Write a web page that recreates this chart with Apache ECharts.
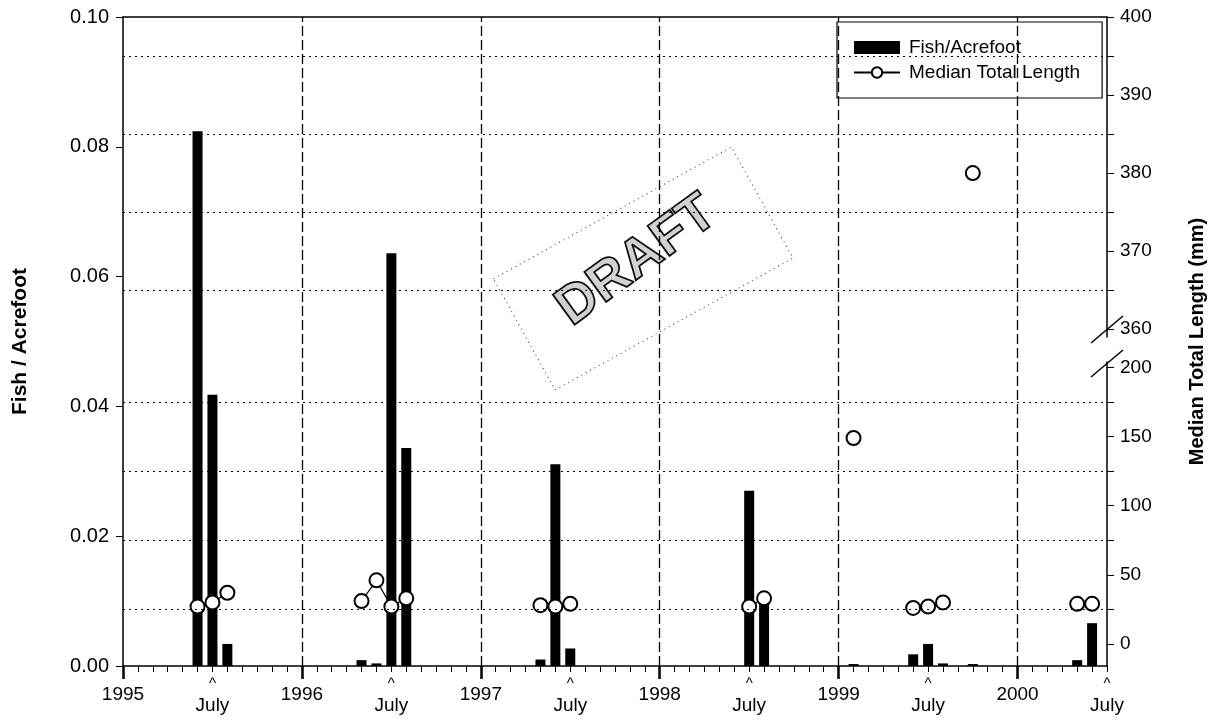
<!DOCTYPE html>
<html><head><meta charset="utf-8">
<script src="https://cdn.jsdelivr.net/npm/echarts@6/dist/echarts.min.js"></script>
<style>html,body{margin:0;padding:0;background:#fff}#c{width:1215px;height:720px}</style>
</head><body><div id="c"></div>
<script>
// ---------------- data ----------------
const barDates = ['1995-06','1995-07','1995-08','1996-05','1996-06','1996-07','1996-08','1997-05','1997-06','1997-07','1998-07','1998-08','1999-02','1999-06','1999-07','1999-08','1999-10','2000-05','2000-06'];
const fishPerAcrefoot = [0.0824,0.0418,0.0034,0.0009,0.0004,0.0636,0.0336,0.0010,0.0311,0.0027,0.0270,0.0098,0.0003,0.0018,0.0034,0.0004,0.0003,0.0009,0.0066];
const lengthDates = ['1995-06','1995-07','1995-08','1996-05','1996-06','1996-07','1996-08','1997-05','1997-06','1997-07','1998-07','1998-08','1999-02','1999-06','1999-07','1999-08','2000-05','2000-06'];
const medianLength = [27,30,37,31,46,27,33,28,27,29,27,33,149,26,27,30,29,29];
const upperLengthDates = ['1999-10'];
const upperMedianLength = [380];
const xLabelMonths = [0,6,12,18,24,30,36,42,48,54,60,66];
const yearMonths = [0,12,24,36,48,60];
const yearGridMonths = [12,24,36,48,60];
const upperRightLabels = [360,370,380,390,400];
const upperRightTicks = [360,365,370,375,380,385,390,395,400];
const lowerRightLabels = [0,50,100,150,200];
const lowerRightTicks = [0,25,50,75,100,125,150,175,200];
const upperGridlines = [365,375,385,395];
const lowerGridlines = [25,75,125,175];

// ---------------- helpers ----------------
const START_YEAR = 1995;
function mi(s){ const p = s.split('-'); return (+p[0]-START_YEAR)*12 + (+p[1]-1); }
function lineData(dates, vals){
  const out = [];
  for (let i=0;i<dates.length;i++){
    const m = mi(dates[i]);
    if (i>0 && m - mi(dates[i-1]) !== 1) out.push([m-0.5,'-']);
    out.push([m, vals[i]]);
  }
  return out;
}
const FONT = '"Liberation Sans", Arial, sans-serif';
const L=123, R=108, T=17, B=54;

const chart = echarts.init(document.getElementById('c'), null, {renderer:'canvas'});
const dotted = {color:'#000', width:1, type:[2,4]};
chart.setOption({
  animation:false,
  backgroundColor:'#fff',
  textStyle:{fontFamily:FONT, color:'#000'},
  grid:[
    {left:L, right:R, top:T, bottom:B},
    {left:L, right:R, top:T, height:320},
    {left:L, right:R, top:362, bottom:B}
  ],
  legend:{
    left:837, top:22, orient:'vertical',
    padding:[16,22,16,16], itemGap:6, itemWidth:46, itemHeight:13,
    backgroundColor:'#fff', borderColor:'#000', borderWidth:1.2, borderRadius:0,
    textStyle:{fontSize:19, color:'#000', fontFamily:FONT, padding:[0,0,0,4]},
    data:[{name:'Fish/Acrefoot', icon:'rect'}, {name:'Median Total Length'}]
  },
  xAxis:[
    {gridIndex:0, type:'value', min:0, max:66, interval:1,
     axisLine:{onZero:false, lineStyle:{color:'#000', width:1.5}},
     axisTick:{length:6, lineStyle:{color:'#000', width:1}},
     splitLine:{show:false},
     axisLabel:{customValues:xLabelMonths, margin:8, color:'#000', fontFamily:FONT, fontSize:19,
       formatter:v => (v%12===0) ? '{yr|'+(START_YEAR+v/12)+'}' : '{car|^}\n{jl|July}',
       rich:{yr:{fontSize:19, lineHeight:42}, car:{fontSize:15, lineHeight:20}, jl:{fontSize:19, lineHeight:24}}}
    },
    {gridIndex:1, type:'value', min:0, max:66, position:'top',
     axisLine:{onZero:false, lineStyle:{color:'#000', width:1.5}},
     axisTick:{show:false}, axisLabel:{show:false}, splitLine:{show:false}},
    {gridIndex:2, type:'value', min:0, max:66, position:'bottom',
     axisLine:{show:false, onZero:false},
     axisTick:{show:true, customValues:yearMonths, length:13, lineStyle:{color:'#000', width:2.5}},
     axisLabel:{show:false}, splitLine:{show:false}}
  ],
  yAxis:[
    {gridIndex:0, type:'value', position:'left', min:0, max:0.1, interval:0.02,
     axisLine:{show:true, onZero:false, lineStyle:{color:'#000', width:1.5}},
     axisTick:{show:true, length:7, lineStyle:{color:'#000'}},
     axisLabel:{fontSize:20, margin:14, color:'#000', formatter:v=>v.toFixed(2)},
     splitLine:{show:false},
     name:'Fish / Acrefoot', nameLocation:'middle', nameGap:92, nameRotate:90,
     nameTextStyle:{fontSize:21, fontWeight:'bold', color:'#000', fontFamily:FONT}},
    {gridIndex:0, type:'value', position:'right', min:0, max:1,
     axisLine:{show:false, onZero:false}, axisTick:{show:false}, axisLabel:{show:false}, splitLine:{show:false},
     name:'Median Total Length (mm)', nameLocation:'middle', nameGap:80, nameRotate:90,
     nameTextStyle:{fontSize:20, fontWeight:'bold', color:'#000', fontFamily:FONT}},
    {gridIndex:1, type:'value', position:'right', min:359, max:400,
     axisLine:{show:true, onZero:false, lineStyle:{color:'#000', width:1.5}},
     axisTick:{show:true, customValues:upperRightTicks, length:7, lineStyle:{color:'#000'}},
     axisLabel:{customValues:upperRightLabels, fontSize:19, margin:13, color:'#000'},
     splitLine:{show:false}},
    {gridIndex:2, type:'value', position:'right', min:-16, max:204,
     axisLine:{show:true, onZero:false, lineStyle:{color:'#000', width:1.5}},
     axisTick:{show:true, customValues:lowerRightTicks, length:7, lineStyle:{color:'#000'}},
     axisLabel:{customValues:lowerRightLabels, fontSize:19, margin:13, color:'#000'},
     splitLine:{show:false}}
  ],
  series:[
    {name:'Fish/Acrefoot', type:'bar', xAxisIndex:0, yAxisIndex:0, barWidth:10,
     itemStyle:{color:'#000'},
     data: barDates.map((d,i)=>[mi(d), fishPerAcrefoot[i]]),
     markLine:{silent:true, symbol:'none', label:{show:false},
       lineStyle:{color:'#000', width:1.3, type:[10,4]},
       emphasis:{disabled:true},
       data: yearGridMonths.map(m=>({xAxis:m}))}
    },
    {name:'Median Total Length', type:'line', xAxisIndex:2, yAxisIndex:3,
     data: lineData(lengthDates, medianLength), connectNulls:false,
     symbol:'emptyCircle', symbolSize:14, showAllSymbol:true,
     lineStyle:{color:'#000', width:1.2}, itemStyle:{color:'#000', borderWidth:1.6},
     markLine:{silent:true, symbol:'none', label:{show:false}, lineStyle:dotted,
       emphasis:{disabled:true},
       data: lowerGridlines.map(v=>({yAxis:v}))}
    },
    {name:'Median Total Length', type:'line', xAxisIndex:1, yAxisIndex:2,
     data: lineData(upperLengthDates, upperMedianLength),
     symbol:'emptyCircle', symbolSize:14, showAllSymbol:true,
     lineStyle:{color:'#000', width:1.2}, itemStyle:{color:'#000', borderWidth:1.6},
     markLine:{silent:true, symbol:'none', label:{show:false}, lineStyle:dotted,
       emphasis:{disabled:true},
       data: upperGridlines.map(v=>({yAxis:v}))}
    }
  ],
  graphic:[
    {type:'group', x:643, y:268, rotation:29*Math.PI/180, silent:true, children:[
      {type:'rect', shape:{x:-136, y:-63, width:272, height:127},
       style:{fill:'none', stroke:'#333', lineWidth:1, lineDash:[1,4]}}
    ]},
    {type:'text', x:637, y:261, rotation:36*Math.PI/180, silent:true,
     style:{text:'DRAFT', font:'bold 54px "Liberation Sans", Arial, sans-serif',
       fill:'rgba(0,0,0,0.18)', stroke:'#111', lineWidth:1.8, align:'center', verticalAlign:'middle'}},
    {type:'line', silent:true, shape:{x1:1091, y1:343, x2:1123, y2:316}, style:{stroke:'#000', lineWidth:1.5}},
    {type:'line', silent:true, shape:{x1:1091, y1:377, x2:1123, y2:350}, style:{stroke:'#000', lineWidth:1.5}}
  ]
});
</script></body></html>
